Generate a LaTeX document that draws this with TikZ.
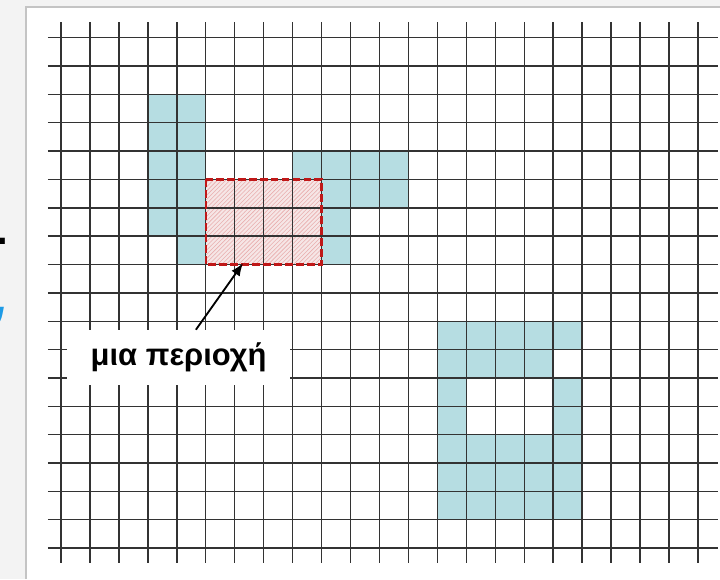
\documentclass[tikz,border=0pt]{standalone}
\usepackage{fontspec}
\setmainfont{Liberation Sans}
\usetikzlibrary{arrows.meta,calc,patterns}
\definecolor{cellblue}{HTML}{B6DDE2}
\definecolor{regionred}{HTML}{C01818}
\definecolor{hatchpink}{HTML}{F6E6E6}
\definecolor{slidegray}{HTML}{F3F3F3}
\definecolor{framegray}{HTML}{C4C4C4}
\definecolor{titleblue}{HTML}{1E9BE6}

\begin{document}
\begin{tikzpicture}[
    x=0.72375cm, y=-0.70875cm,
    gridline/.style={draw=black!80, line width=1pt},
    cell/.style={fill=cellblue},
    regionbox/.style={draw=regionred, line width=1.7pt, dash pattern=on 5.6pt off 2.2pt},
    lblbox/.style={fill=white, minimum width=5.575cm, minimum height=1.375cm, inner sep=0pt, font=\fontsize{22}{26}\selectfont\bfseries},
    arrow/.style={-{Latex[length=3.2mm, width=2.5mm]}, line width=1.3pt, draw=black}
]
\useasboundingbox (-2.107,-1.330) rectangle (22.763,19.093);
\clip (-2.107,-1.330) rectangle (22.763,19.093);
% slide and panel
\fill[slidegray] (-2.107,-1.330) rectangle (22.763,19.093);
\fill[white] (-1.209,-1.083) rectangle (22.763,19.093);
\draw[framegray, line width=1pt] (-1.209,19.093) -- (-1.209,-1.083) -- (22.763,-1.083);
\node[anchor=base east, inner sep=0pt, font=\fontsize{30}{36}\selectfont\bfseries] (dot) at (-1.813,7.3) {.};
\node[anchor=base east, inner sep=0pt, text=titleblue, font=\fontsize{44}{50}\selectfont\bfseries\itshape] (comma) at (-1.76,9.84) {,};

% blue regions
\fill[cell] (3,2) rectangle (4,7);
\fill[cell] (4,2) rectangle (5,8);
\fill[cell] (8,4) rectangle (9,5);
\fill[cell] (9,4) rectangle (10,8);
\fill[cell] (10,4) rectangle (12,6);
\fill[cell, even odd rule] (13,10) rectangle (18,17) (17,11) rectangle (18,12) (14,12) rectangle (17,14);

% the marked region
\fill[hatchpink] (5,5) rectangle (9,8);
\fill[pattern=north east lines, pattern color=regionred!35] (5,5) rectangle (9,8);

% grid
\foreach \i in {0,...,22}
    \draw[gridline] (\i,-0.55) -- (\i,18.53);
\foreach \j in {0,...,18}
    \draw[gridline] (-0.45,\j) -- (22.7,\j);

\draw[regionbox] (5,5) rectangle (9,8);
\coordinate (tip) at (6.29,7.95);

% label
\node[lblbox] (lbl) at (4.06,11.28) {μια περιοχή};
\draw[arrow] ($(lbl.north)+(0.6,0)$) -- (tip);
\end{tikzpicture}
\end{document}
